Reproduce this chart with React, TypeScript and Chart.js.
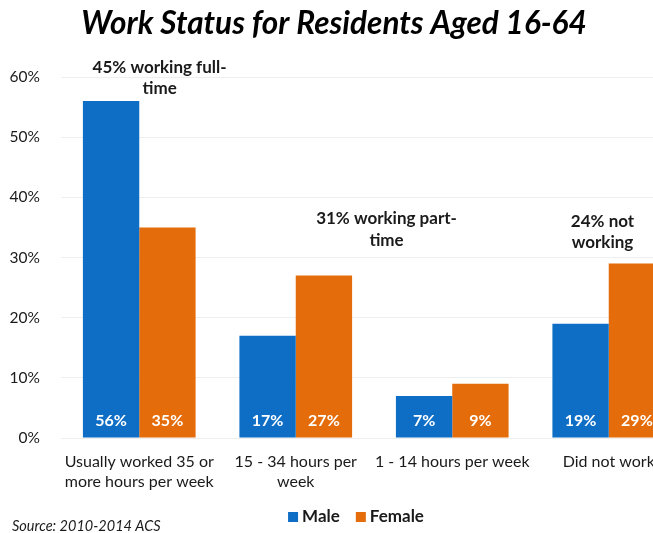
import React, { useEffect, useRef } from 'react';
import { Chart, registerables } from 'chart.js';

Chart.register(...registerables);

const categories: (string | string[])[] = [
  ['Usually worked 35 or', 'more hours per week'],
  ['15 - 34 hours per', 'week'],
  '1 - 14 hours per week',
  'Did not work',
];
const seriesNames = ['Male', 'Female'];
const maleValues = [56, 17, 7, 19];
const femaleValues = [35, 27, 9, 29];
const seriesColors = ['#0E6EC5', '#E46C0A'];
const yMax = 60;
const yStep = 10;

const annotationTexts = [
  ['45% working full-', 'time'],
  ['31% working part-', 'time'],
  ['24% not', 'working'],
];
const annotationIndex = [0.13, 1.58, 2.96];
const annotationValue = [61.6, 36.4, 36.0];

const titleText = 'Work Status for Residents Aged 16-64';
const sourceText = 'Source: 2010-2014 ACS';

const FONT = 'Lato, "Open Sans", sans-serif';
const TEXT = '#1a1a1a';

const overlay = {
  id: 'overlay',
  afterDatasetsDraw(chart: any) {
    const ctx = chart.ctx as CanvasRenderingContext2D;
    const xs = chart.scales.x;
    const ys = chart.scales.y;
    ctx.save();
    ctx.textAlign = 'center';
    ctx.textBaseline = 'middle';

    // data labels inside bars
    chart.data.datasets.forEach((ds: any, di: number) => {
      const meta = chart.getDatasetMeta(di);
      meta.data.forEach((bar: any, i: number) => {
        ctx.fillStyle = '#ffffff';
        ctx.font = `bold 16px ${FONT}`;
        ctx.fillText(ds.data[i] + '%', bar.x, bar.base - 17);
      });
    });

    // annotations
    ctx.fillStyle = TEXT;
    ctx.font = `bold 17px ${FONT}`;
    annotationTexts.forEach((lines, k) => {
      const cx = xs.getPixelForValue(annotationIndex[k]);
      const cy = ys.getPixelForValue(annotationValue[k]);
      lines.forEach((ln, j) => ctx.fillText(ln, cx, cy + j * 21.5));
    });

    // title
    ctx.font = `italic bold 31.5px ${FONT}`;
    ctx.fillStyle = '#000';
    ctx.fillText(titleText, 334, 24);

    // legend
    ctx.font = `bold 17px ${FONT}`;
    const sq = 10;
    const gapSq = 4;
    const gapItem = 16;
    const widths = seriesNames.map((n) => ctx.measureText(n).width);
    const total = widths.reduce((a, w) => a + sq + gapSq + w, 0) + gapItem * (seriesNames.length - 1);
    let lx = 356 - total / 2;
    const ly = 517;
    ctx.textAlign = 'left';
    seriesNames.forEach((n, i) => {
      ctx.fillStyle = seriesColors[i];
      ctx.fillRect(lx, ly - sq / 2, sq, sq);
      lx += sq + gapSq;
      ctx.fillStyle = TEXT;
      ctx.fillText(n, lx, ly);
      lx += widths[i] + gapItem;
    });

    // source
    ctx.font = `italic 14.5px ${FONT}`;
    ctx.fillStyle = TEXT;
    ctx.textAlign = 'left';
    ctx.fillText(sourceText, 12, 526);

    ctx.restore();
  },
};

export default function App() {
  const ref = useRef<HTMLCanvasElement | null>(null);
  useEffect(() => {
    if (!ref.current) return;
    const chart = new Chart(ref.current, {
      type: 'bar',
      data: {
        labels: categories as any,
        datasets: [
          { label: seriesNames[0], data: maleValues, backgroundColor: seriesColors[0], barPercentage: 1, categoryPercentage: 0.72 },
          { label: seriesNames[1], data: femaleValues, backgroundColor: seriesColors[1], barPercentage: 1, categoryPercentage: 0.72 },
        ],
      },
      options: {
        responsive: false,
        devicePixelRatio: 1,
        animation: false,
        layout: { padding: { top: 77, right: 13, left: 0, bottom: 0 } },
        plugins: {
          legend: { display: false },
          title: { display: false },
          tooltip: { enabled: false },
        },
        scales: {
          x: {
            grid: { display: false, drawTicks: false },
            border: { display: false },
            ticks: {
              font: { family: FONT, size: 16, lineHeight: 1.25 },
              color: TEXT,
              padding: 14,
              maxRotation: 0,
              autoSkip: false,
            },
            afterFit: (s: any) => {
              s.height = 95;
            },
          },
          y: {
            min: 0,
            max: yMax,
            ticks: {
              stepSize: yStep,
              callback: (v: any) => v + '%',
              font: { family: FONT, size: 15.5 },
              color: TEXT,
              padding: 21,
            },
            grid: { color: '#eeeeee', drawTicks: false },
            border: { display: false },
            afterFit: (s: any) => {
              s.width = 61;
            },
          },
        },
      },
      plugins: [overlay],
    });
    return () => chart.destroy();
  }, []);

  return (
    <div
      style={{
        position: 'fixed',
        left: 0,
        top: 0,
        width: 653,
        height: 533,
        overflow: 'hidden',
        background: '#fff',
      }}
    >
      <canvas ref={ref} width={700} height={533} style={{ display: 'block' }} />
    </div>
  );
}
